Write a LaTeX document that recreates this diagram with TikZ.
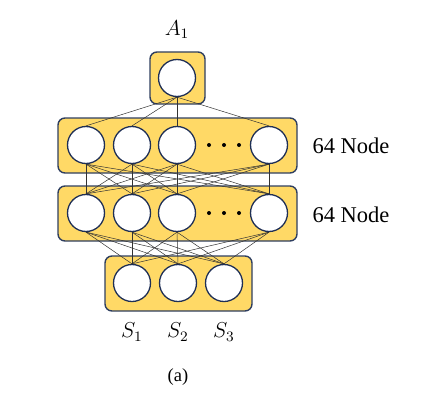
\documentclass[tikz,border=0pt]{standalone}
\usepackage{fontspec}
\setmainfont{Liberation Serif}
\begin{document}
\begin{tikzpicture}[x=1pt,y=-1pt,
  layerbox/.style={draw=boxblue,fill=boxyellow,line width=1.4pt,rounded corners=7pt},
  neuron/.style={circle,draw=circblue,fill=white,line width=1.3pt,minimum size=37pt,inner sep=0pt},
  link/.style={draw=black!80,line width=0.5pt},
  lbl/.style={font=\fontsize{22.5}{26}\selectfont},
  mlbl/.style={font=\fontsize{12}{14}\selectfont,scale=1.8},
  caplbl/.style={font=\fontsize{10}{12}\selectfont,scale=1.85}]
\definecolor{boxyellow}{HTML}{FFD966}
\definecolor{boxblue}{HTML}{2F3F60}
\definecolor{circblue}{HTML}{1F2F55}
\useasboundingbox (0,0) rectangle (425,404);
% boxes
\draw[layerbox] (150,52) rectangle (205,104);
\draw[layerbox] (58,118) rectangle (297,173);
\draw[layerbox] (58,186) rectangle (297,241);
\draw[layerbox] (105,256) rectangle (252,311);
% neurons
\node[neuron] (a) at (177,78) {};
\foreach \i/\x in {1/86,2/132,3/177,4/269}{
  \node[neuron] (h\i) at (\x,145) {};
  \node[neuron] (g\i) at (\x,213) {};
}
\foreach \i/\x in {1/132,2/178,3/224}{
  \node[neuron] (s\i) at (\x,283) {};
}
% dots
\foreach \x in {209,224,239}{ \fill (\x,145) circle (2pt); \fill (\x,213) circle (2pt); }
% links
\foreach \i in {1,...,4}{ \draw[link] (a.south) -- (h\i.north); }
\foreach \i in {1,...,4}{ \foreach \j in {1,...,4}{ \draw[link] (h\i.south) -- (g\j.north); } }
\foreach \i in {1,...,4}{ \foreach \j in {1,...,3}{ \draw[link] (g\i.south) -- (s\j.north); } }
% labels
\node[mlbl] (la) at (177,30) {$A_1$};
\node[mlbl] (l1) at (132,332) {$S_1$};
\node[mlbl] (l2) at (178,332) {$S_2$};
\node[mlbl] (l3) at (224,332) {$S_3$};
\node[lbl] (n1) at (351,146) {64 Node};
\node[lbl] (n2) at (351,215) {64 Node};
\node[caplbl] (cap) at (178,377) {(a)};
\end{tikzpicture}
\end{document}
